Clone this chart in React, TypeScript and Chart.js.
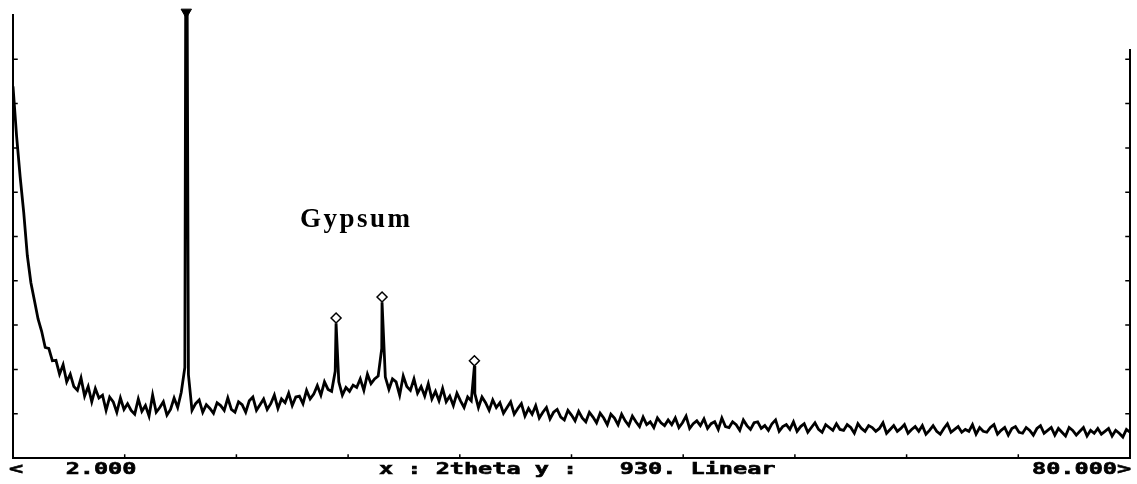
import React, { useEffect, useRef } from "react";
import { Chart, registerables } from "chart.js";

Chart.register(...registerables);

// 2theta grid start / step for the scanned intensity list
const twoThetaStart = 2;
const twoThetaStep = 0.25;

// intensity (counts), one value every 0.25 deg from 2.00 to 80.00
const intensity: number[] = [
  780, 676, 590, 515, 425, 368, 330, 292,
  266, 232, 230, 204, 205, 176, 196, 160,
  176, 150, 142, 168, 130, 150, 118, 146,
  126, 132, 100, 128, 118, 96, 126, 102,
  114, 100, 92, 124, 98, 110, 88, 132,
  96, 106, 118, 90, 102, 126, 106, 138,
  190, 175, 100, 114, 122, 96, 112, 104,
  94, 116, 110, 100, 126, 102, 96, 118,
  112, 96, 120, 128, 100, 112, 124, 102,
  114, 132, 104, 124, 116, 136, 110, 128,
  130, 114, 142, 124, 134, 152, 132, 160,
  144, 140, 182, 160, 132, 148, 140, 153,
  148, 166, 142, 176, 156, 166, 172, 230,
  170, 144, 166, 160, 132, 172, 150, 142,
  166, 136, 150, 130, 156, 124, 140, 120,
  146, 118, 130, 110, 136, 120, 106, 128,
  120, 135, 106, 128, 116, 100, 122, 106,
  116, 94, 106, 118, 92, 104, 114, 88,
  104, 92, 110, 84, 96, 106, 82, 96,
  102, 86, 80, 100, 90, 78, 98, 84,
  76, 96, 86, 74, 94, 84, 70, 92,
  84, 70, 92, 78, 68, 88, 76, 66,
  86, 70, 76, 64, 84, 74, 68, 80,
  70, 84, 64, 74, 88, 62, 72, 78,
  68, 82, 62, 72, 76, 60, 84, 66,
  64, 76, 70, 58, 80, 68, 60, 74,
  76, 62, 68, 58, 72, 80, 56, 66,
  70, 60, 76, 56, 66, 72, 54, 64,
  74, 60, 54, 70, 64, 58, 72, 60,
  58, 70, 64, 52, 72, 62, 56, 68,
  64, 56, 62, 74, 52, 60, 68, 56,
  62, 70, 52, 60, 66, 56, 68, 50,
  58, 68, 56, 50, 62, 72, 54, 60,
  66, 54, 60, 56, 70, 50, 64, 56,
  54, 64, 70, 50, 58, 64, 48, 62,
  66, 54, 52, 64, 58, 48, 62, 68,
  52, 58, 64, 48, 62, 54, 46, 64,
  58, 48, 56, 64, 46, 58, 52, 62,
  50, 56, 62, 46, 58, 52, 44, 60,
  54,
];

// sharp reflections (apex positions and heights)
const peakTwoTheta = [14.1, 24.56, 27.77, 34.22];
const peakIntensity = [1500, 283, 327, 193];

// gypsum diamond markers
const markerTwoTheta = [24.56, 27.77, 34.22];
const markerIntensity = [294, 338, 204];

// off-scale marker
const offScaleTwoTheta = [14.1];
const offScaleIntensity = [936];

// axis range and ticks
const xMin = 2;
const xMax = 80;
const yMin = 0;
const yMax = 930;
const xTickValues = [9.8, 17.6, 25.4, 33.2, 41.0, 48.8, 56.6, 64.4, 72.2];
const yTickValues = [93, 186, 279, 372, 465, 558, 651, 744, 837];

// texts
const labelLeft = "<   2.000";
const labelMiddle = "x : 2theta y :   930. Linear";
const labelRight = "80.000>";
const annotationText = "Gypsum";

const framePlugin = {
  id: "xrdFrame",
  afterDraw(chart: any) {
    const { ctx, chartArea, scales } = chart;
    const xs = scales.x;
    const ys = scales.y;
    const left = chartArea.left;
    const right = chartArea.right;
    const top = chartArea.top;
    const bottom = chartArea.bottom;
    ctx.save();
    ctx.strokeStyle = "#000";
    ctx.lineWidth = 2;
    ctx.lineCap = "square";
    ctx.beginPath();
    ctx.moveTo(left, top);
    ctx.lineTo(left, bottom);
    ctx.lineTo(right, bottom);
    ctx.lineTo(right, top + 35);
    ctx.stroke();
    ctx.lineWidth = 1.5;
    ctx.beginPath();
    for (const v of yTickValues) {
      const y = ys.getPixelForValue(v);
      ctx.moveTo(left, y);
      ctx.lineTo(left + 4, y);
      if (y > top + 35) {
        ctx.moveTo(right, y);
        ctx.lineTo(right - 4, y);
      }
    }
    for (const v of xTickValues) {
      const x = xs.getPixelForValue(v);
      ctx.moveTo(x, bottom);
      ctx.lineTo(x, bottom - 3);
    }
    ctx.stroke();
    ctx.restore();
  },
};

const monoStyle: React.CSSProperties = {
  position: "absolute",
  top: 461,
  margin: 0,
  font: 'bold 16px "DejaVu Sans Mono"',
  lineHeight: "16px",
  whiteSpace: "pre",
  transform: "scaleX(1.47)",
  transformOrigin: "left top",
  color: "#000",
  WebkitTextStroke: "0.6px #000",
};

export default function App() {
  const ref = useRef<HTMLCanvasElement | null>(null);

  useEffect(() => {
    if (!ref.current) return;
    const trace = intensity.map((v, i) => ({ x: twoThetaStart + i * twoThetaStep, y: v }));
    peakTwoTheta.forEach((x, i) => trace.push({ x, y: peakIntensity[i] }));
    trace.sort((a, b) => a.x - b.x);
    const diamonds = markerTwoTheta.map((x, i) => ({ x, y: markerIntensity[i] }));
    const offScale = offScaleTwoTheta.map((x, i) => ({ x, y: offScaleIntensity[i] }));

    const chart = new Chart(ref.current, {
      type: "line",
      data: {
        datasets: [
          {
            data: trace,
            borderColor: "#000",
            borderWidth: 2.8,
            pointRadius: 0,
            tension: 0,
            order: 3,
          } as any,
          {
            type: "scatter",
            data: diamonds,
            pointStyle: "rectRot",
            pointRadius: 5,
            borderColor: "#000",
            backgroundColor: "#fff",
            borderWidth: 1.5,
            order: 1,
          } as any,
          {
            type: "scatter",
            data: offScale,
            pointStyle: "triangle",
            rotation: 180,
            pointRadius: 6,
            borderColor: "#000",
            backgroundColor: "#000",
            borderWidth: 1,
            clip: false,
            order: 0,
          } as any,
        ],
      },
      options: {
        responsive: false,
        animation: false,
        layout: { padding: { left: 13, right: 4, top: 15, bottom: 26 } },
        plugins: { legend: { display: false }, tooltip: { enabled: false } },
        scales: {
          x: { type: "linear", min: xMin, max: xMax, display: false },
          y: { type: "linear", min: yMin, max: yMax, display: false },
        },
      },
      plugins: [framePlugin],
    });
    return () => chart.destroy();
  }, []);

  return (
    <div style={{ position: "absolute", left: 0, top: 0, width: 1137, height: 484, background: "#fff" }}>
      <canvas ref={ref} width={1137} height={484} style={{ position: "absolute", left: 0, top: 0 }} />
      <div style={{ ...monoStyle, left: 9 }}>{labelLeft}</div>
      <div style={{ ...monoStyle, left: 379 }}>{labelMiddle}</div>
      <div style={{ ...monoStyle, left: 1032 }}>{labelRight}</div>
      <div
        style={{
          position: "absolute",
          left: 300,
          top: 205,
          font: 'bold 27px "Liberation Serif"',
          lineHeight: "27px",
          letterSpacing: "2.5px",
          whiteSpace: "pre",
          color: "#000",
        }}
      >
        {annotationText}
      </div>
    </div>
  );
}
